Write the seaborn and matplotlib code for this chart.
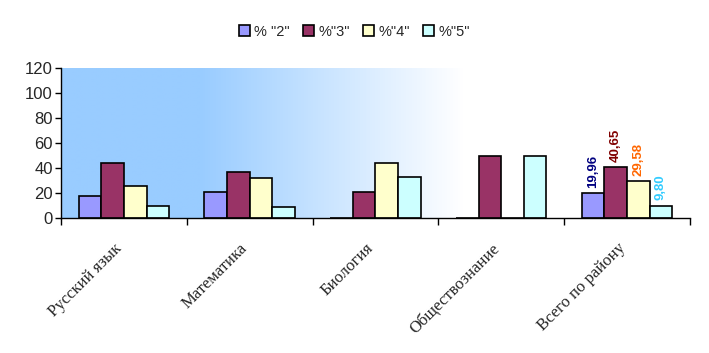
import numpy as np
import pandas as pd
import seaborn as sns
import matplotlib.pyplot as plt
import matplotlib.colors as mcolors
import matplotlib.transforms as mtransforms

subjects = ["Русский язык", "Математика", "Биология", "Обществознание", "Всего по району"]
series = ['% "2"', '%"3"', '%"4"', '%"5"']
p2 = [18, 21, 0, 0, 19.96]
p3 = [44, 37, 21, 50, 40.65]
p4 = [26, 32, 44, 0, 29.58]
p5 = [10, 9, 33, 50, 9.80]

bar_colors = ["#9999FF", "#993366", "#FFFFCC", "#CCFFFF"]
label_colors = ["#000080", "#800000", "#FF6600", "#33CCFF"]

rows = []
for s, vals in zip(series, [p2, p3, p4, p5]):
    for subj, v in zip(subjects, vals):
        rows.append({"subject": subj, "series": s, "value": v})
df = pd.DataFrame(rows)

sns.set_style("white")
plt.rcParams["font.family"] = ["Liberation Sans", "DejaVu Sans"]

fig = plt.figure(figsize=(7.09, 3.53), dpi=100)
ax = fig.add_axes([0.086, 0.382, 0.887, 0.425])

# gradient background: light blue on the left fading to white
xs = np.linspace(0, 1, 600)
grad = np.clip((xs - 0.22) / 0.42, 0, 1)
cmap = mcolors.LinearSegmentedColormap.from_list("bg", ["#99CCFF", "#FFFFFF"])
ax.imshow(grad[np.newaxis, :], aspect="auto", cmap=cmap, extent=[0, 1, 0, 1],
          transform=ax.transAxes, zorder=0, interpolation="bilinear")

sns.barplot(data=df, x="subject", y="value", hue="series", order=subjects,
            hue_order=series, palette=bar_colors, width=0.72,
            edgecolor="black", linewidth=1.2, saturation=1, ax=ax, zorder=2)

ax.set_xlim(-0.5, 4.5)
ax.set_ylim(0, 120)
ax.set_yticks(range(0, 121, 20))
ax.tick_params(axis="y", labelsize=12, length=4, width=1, color="black", left=True, pad=2)
for side in ["top", "right"]:
    ax.spines[side].set_visible(False)
for side in ["left", "bottom"]:
    ax.spines[side].set_color("black")
    ax.spines[side].set_linewidth(1)
ax.set_xlabel("")
ax.set_ylabel("")

# labels at category centres, tick marks at category boundaries
ax.set_xticks(range(len(subjects)))
ax.set_xticklabels(subjects, rotation=45, rotation_mode="anchor", ha="right",
                   fontsize=12, family="Liberation Serif")
ax.tick_params(axis="x", which="major", length=0, pad=16)
ax.set_xticks(np.arange(-0.5, 4.6, 1), minor=True)
ax.tick_params(axis="x", which="minor", length=5, width=1, color="black", bottom=True)
shift = mtransforms.ScaledTranslation(-0.1, 0, fig.dpi_scale_trans)
for lab in ax.get_xticklabels():
    lab.set_transform(lab.get_transform() + shift)

# value labels on the last group
for cont, col in zip(ax.containers, label_colors):
    bar = cont[-1]
    h = bar.get_height()
    ax.annotate(f"{h:.2f}".replace(".", ","), (bar.get_x() + bar.get_width() / 2, h),
                xytext=(0, 4), textcoords="offset points", rotation=90,
                ha="center", va="bottom", fontsize=9.5, fontweight="bold", color=col)

handles, labels = ax.get_legend_handles_labels()
ax.legend(handles, labels, loc="center", bbox_to_anchor=(0.5, 0.91),
          bbox_transform=fig.transFigure, ncol=4, frameon=False, fontsize=10.5,
          handlelength=0.75, handleheight=0.75, handletextpad=0.3, columnspacing=0.9)

fig.savefig("out.png", dpi=100)
